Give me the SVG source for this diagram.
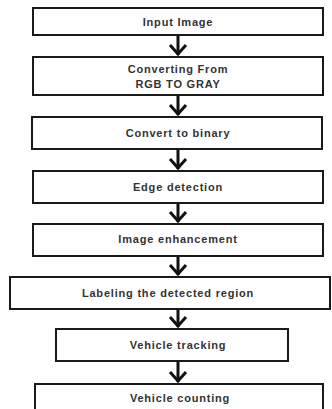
<svg xmlns="http://www.w3.org/2000/svg" width="332" height="409" viewBox="0 0 332 409">
<defs>
<style>
.box{fill:#fff;stroke:#1a1a1a;stroke-width:2}
.t{font-family:"Liberation Sans",Arial,sans-serif;font-size:11px;font-weight:bold;fill:#333;text-anchor:middle;letter-spacing:0.8px}
.sh{stroke:#111;stroke-width:3;fill:none}
.hd{fill:none;stroke:#111;stroke-width:3;stroke-linejoin:miter}
</style>
</defs>
<rect width="332" height="409" fill="#fff"/>
<g id="connectors">
<line class="sh" x1="178" y1="35" x2="178" y2="55"/><path class="hd" d="M170,45 L178,54 L186,45"/>
<line class="sh" x1="178" y1="95" x2="178" y2="115"/><path class="hd" d="M170,105 L178,114 L186,105"/>
<line class="sh" x1="178" y1="149" x2="178" y2="169"/><path class="hd" d="M170,159 L178,168 L186,159"/>
<line class="sh" x1="178" y1="203" x2="178" y2="222"/><path class="hd" d="M170,212 L178,221 L186,212"/>
<line class="sh" x1="178" y1="256" x2="178" y2="275"/><path class="hd" d="M170,265 L178,274 L186,265"/>
<line class="sh" x1="178" y1="309" x2="178" y2="327"/><path class="hd" d="M170,317 L178,326 L186,317"/>
<line class="sh" x1="178" y1="361" x2="178" y2="382"/><path class="hd" d="M170,372 L178,381 L186,372"/>
</g>
<g id="n1"><rect class="box" x="33" y="8" width="290" height="27"/><text class="t" x="178" y="26">Input Image</text></g>
<g id="n2"><rect class="box" x="33" y="57" width="290" height="38"/><text class="t" x="178" y="73">Converting From</text><text class="t" x="178" y="88">RGB TO GRAY</text></g>
<g id="n3"><rect class="box" x="32" y="117" width="290" height="32"/><text class="t" x="178" y="137">Convert to binary</text></g>
<g id="n4"><rect class="box" x="33" y="171" width="290" height="32"/><text class="t" x="178" y="191">Edge detection</text></g>
<g id="n5"><rect class="box" x="33" y="224" width="290" height="32"/><text class="t" x="178" y="243">Image enhancement</text></g>
<g id="n6"><rect class="box" x="10" y="277" width="320" height="32"/><text class="t" x="168" y="297">Labeling the detected region</text></g>
<g id="n7"><rect class="box" x="56" y="329" width="232" height="32"/><text class="t" x="178" y="349">Vehicle tracking</text></g>
<g id="n8"><rect class="box" x="35" y="384" width="288" height="32"/><text class="t" x="180" y="402">Vehicle counting</text></g>
</svg>
